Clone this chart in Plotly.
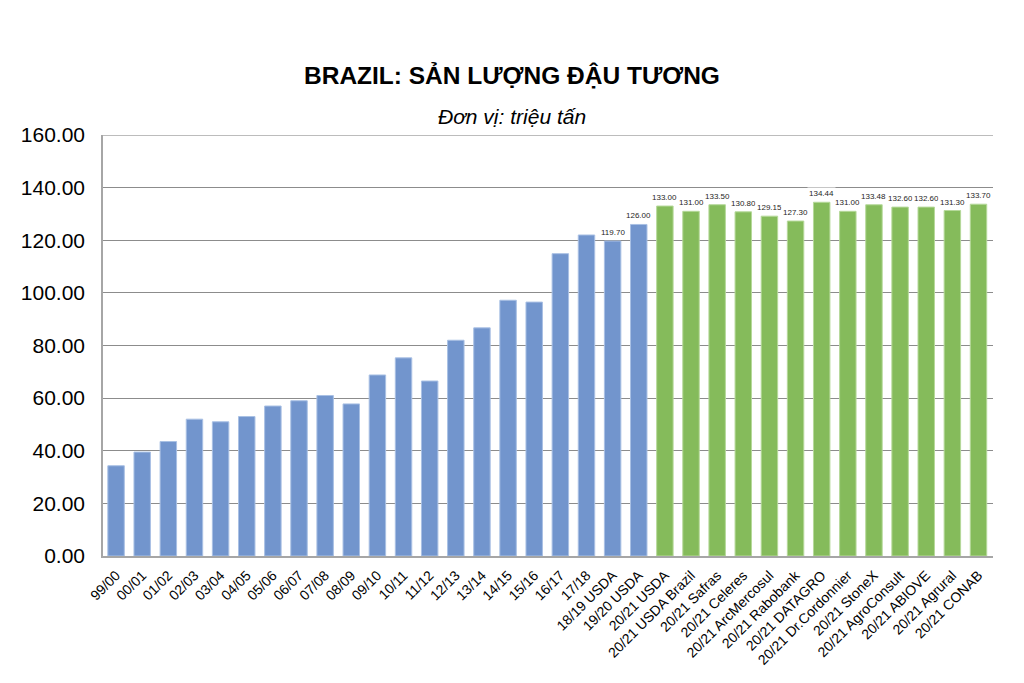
import plotly.graph_objects as go

# Crop years (history) and 2020/21 estimates by source
seasons = ['99/00', '00/01', '01/02', '02/03', '03/04', '04/05', '05/06', '06/07',
           '07/08', '08/09', '09/10', '10/11', '11/12', '12/13', '13/14', '14/15',
           '15/16', '16/17', '17/18', '18/19 USDA', '19/20 USDA']
history = [34.3, 39.5, 43.5, 52.0, 51.0, 53.0, 57.0, 59.0,
           61.0, 57.8, 68.8, 75.3, 66.5, 82.0, 86.7, 97.2,
           96.5, 114.9, 122.0, 119.70, 126.00]

sources = ['20/21 USDA', '20/21 USDA Brazil', '20/21 Safras', '20/21 Celeres',
           '20/21 ArcMercosul', '20/21 Rabobank', '20/21 DATAGRO', '20/21 Dr.Cordonnier',
           '20/21 StoneX', '20/21 AgroConsult', '20/21 ABIOVE', '20/21 Agrural',
           '20/21 CONAB']
estimates = [133.00, 131.00, 133.50, 130.80, 129.15, 127.30, 134.44, 131.00,
             133.48, 132.60, 132.60, 131.30, 133.70]

# only the latest two seasons carry value labels
labelled = ['18/19 USDA', '19/20 USDA']

categories = seasons + sources

fig = go.Figure()
fig.add_trace(go.Bar(x=seasons, y=history, marker=dict(color='#7295CD', line=dict(color='#A9C0E4', width=1))))
fig.add_trace(go.Bar(x=sources, y=estimates, marker=dict(color='#85BB5B', line=dict(color='#B6D99A', width=1))))

# page body has an 8px margin, so everything is shifted back by 8px
annots = [
    dict(text='<b>BRAZIL: SẢN LƯỢNG ĐẬU TƯƠNG</b>', x=0.4596, y=1.1425, xref='paper', yref='paper',
         showarrow=False, yanchor='middle', font=dict(size=24.5, color='black')),
    dict(text='<i>Đơn vị: triệu tấn</i>', x=0.4596, y=1.045, xref='paper', yref='paper',
         showarrow=False, yanchor='middle', font=dict(size=21, color='black')),
]
# value labels with white box (they break the gridline like in the original)
for cat, val in list(zip(seasons, history)) + list(zip(sources, estimates)):
    if cat in labelled or cat in sources:
        annots.append(dict(x=cat, y=val, text=f'{val:.2f}', showarrow=False,
                           yanchor='bottom', yshift=2, bgcolor='white', borderpad=1,
                           font=dict(size=8, color='#262626')))

fig.update_layout(
    width=1024, height=683,
    margin=dict(l=95, r=39, t=127, b=135),
    paper_bgcolor='white', plot_bgcolor='white',
    font=dict(family='Liberation Sans, Arial', color='black'),
    showlegend=False,
    bargap=0.37,
    annotations=annots,
    xaxis=dict(categoryorder='array', categoryarray=categories, tickangle=-45,
               tickfont=dict(size=14), showline=True, linecolor='#A6A6A6', linewidth=1.5,
               ticks='outside', ticklen=4, tickcolor='white', showgrid=False, automargin=False),
    yaxis=dict(range=[0, 160], dtick=20, tickformat='.2f', tickfont=dict(size=21),
               showline=True, linecolor='#A6A6A6', linewidth=1.5, gridcolor='#8C8C8C',
               gridwidth=1, zeroline=False, ticks='outside', ticklen=12, tickcolor='white',
               automargin=False),
)
fig.add_shape(type='line', xref='paper', yref='y', x0=0, x1=1, y0=160, y1=160,
              line=dict(color='#A6A6A6', width=1.5), layer='below')

fig.write_html('out.html')
